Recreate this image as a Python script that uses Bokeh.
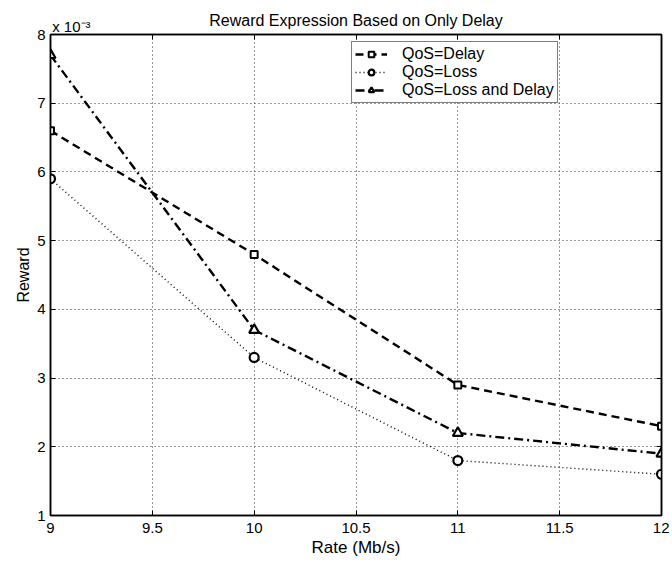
from bokeh.plotting import figure
from bokeh.models import Range1d, LinearAxis, FixedTicker, Legend, LegendItem
from bokeh.embed import file_html
from bokeh.resources import INLINE

rates = [9, 10, 11, 12]
delay = [6.6, 4.8, 2.9, 2.3]
loss = [5.9, 3.3, 1.8, 1.6]
loss_delay = [7.7, 3.7, 2.2, 1.9]
x_ticks = [9, 9.5, 10, 10.5, 11, 11.5, 12]
y_ticks = [1, 2, 3, 4, 5, 6, 7, 8]
title_text = "Reward Expression Based on Only Delay"
scale_text = "x 10\u207b\u00b3"

FONT = "Liberation Sans"
NB = "\u00a0"

p = figure(width=669, height=562, output_backend="svg", toolbar_location=None,
           x_range=Range1d(9, 12), y_range=Range1d(1, 8),
           min_border_left=50, min_border_right=8, min_border_top=34, min_border_bottom=47)
p.background_fill_color = "white"
p.border_fill_color = "white"
p.outline_line_color = "black"
p.outline_line_width = 1.5

for ax in (p.xaxis[0], p.yaxis[0]):
    ax.major_tick_in = 5
    ax.major_tick_out = 0
    ax.minor_tick_line_color = None
    ax.axis_line_color = "black"
    ax.axis_line_width = 1.5
    ax.major_tick_line_color = "black"
    ax.major_label_text_font = FONT
    ax.major_label_text_font_size = "15px"
    ax.major_label_text_color = "black"
    ax.axis_label_text_font = FONT
    ax.axis_label_text_font_style = "normal"
    ax.axis_label_text_color = "black"

p.xaxis.ticker = FixedTicker(ticks=x_ticks)
p.yaxis.ticker = FixedTicker(ticks=y_ticks)
p.xaxis.major_label_overrides = {9: "9", 10: "10", 11: "11", 12: "12"}
p.xaxis.major_label_standoff = 7
p.yaxis.major_label_standoff = 5
p.xaxis.axis_label = "Rate (Mb/s)"
p.yaxis.axis_label = "Reward"
p.xaxis.axis_label_text_font_size = "17px"
p.yaxis.axis_label_text_font_size = "16px"
p.xaxis.axis_label_standoff = 2
p.yaxis.axis_label_standoff = 2

top_overrides = {t: "" for t in x_ticks}
top_overrides[9] = NB * 10 + scale_text
top = LinearAxis(ticker=FixedTicker(ticks=x_ticks), major_label_overrides=top_overrides,
                 major_label_text_font=FONT, major_label_text_font_size="15px",
                 major_label_text_color="black",
                 major_tick_in=5, major_tick_out=0, minor_tick_line_color=None,
                 axis_line_width=1.5, major_label_standoff=0,
                 axis_label=title_text, axis_label_text_font=FONT,
                 axis_label_text_font_size="16px", axis_label_text_font_style="normal",
                 axis_label_text_color="black", axis_label_standoff=-14)
right = LinearAxis(ticker=FixedTicker(ticks=y_ticks),
                   major_label_overrides={t: "" for t in y_ticks},
                   major_tick_in=5, major_tick_out=0, minor_tick_line_color=None,
                   axis_line_width=1.5, major_label_standoff=0)
p.add_layout(top, "above")
p.add_layout(right, "right")

p.xgrid.ticker = FixedTicker(ticks=x_ticks)
p.ygrid.ticker = FixedTicker(ticks=y_ticks)
for g in (p.xgrid[0], p.ygrid[0]):
    g.grid_line_color = "#333333"
    g.grid_line_dash = "1 3"
    g.grid_line_width = 1

r1l = p.line(rates, delay, line_color="black", line_width=2.4, line_dash="8 5")
r1m = p.scatter(rates, delay, marker="square", size=7, fill_color="white",
                line_color="black", line_width=2)
r2l = p.line(rates, loss, line_color="black", line_width=1.4, line_dash="1 3")
r2m = p.scatter(rates, loss, marker="circle", size=9, fill_color="white",
                line_color="black", line_width=2.2)
r3l = p.line(rates, loss_delay, line_color="black", line_width=2.4, line_dash="9 4 2 4")
r3m = p.scatter(rates, loss_delay, marker="triangle", size=10, fill_color="white",
                line_color="black", line_width=2.2)

legend = Legend(items=[
    LegendItem(label="QoS=Delay", renderers=[r1l, r1m]),
    LegendItem(label="QoS=Loss", renderers=[r2l, r2m]),
    LegendItem(label="QoS=Loss and Delay", renderers=[r3l, r3m]),
], location=(301, 412))
legend.label_text_font = FONT
legend.label_text_font_size = "16px"
legend.label_text_color = "black"
legend.glyph_width = 32
legend.glyph_height = 14
legend.label_height = 14
legend.spacing = 0
legend.padding = 3
legend.margin = 0
legend.border_line_color = "black"
legend.border_line_width = 1.5
legend.background_fill_alpha = 1
legend.label_standoff = 15
p.add_layout(legend, "center")

open("out.html", "w").write(file_html(p, INLINE))
